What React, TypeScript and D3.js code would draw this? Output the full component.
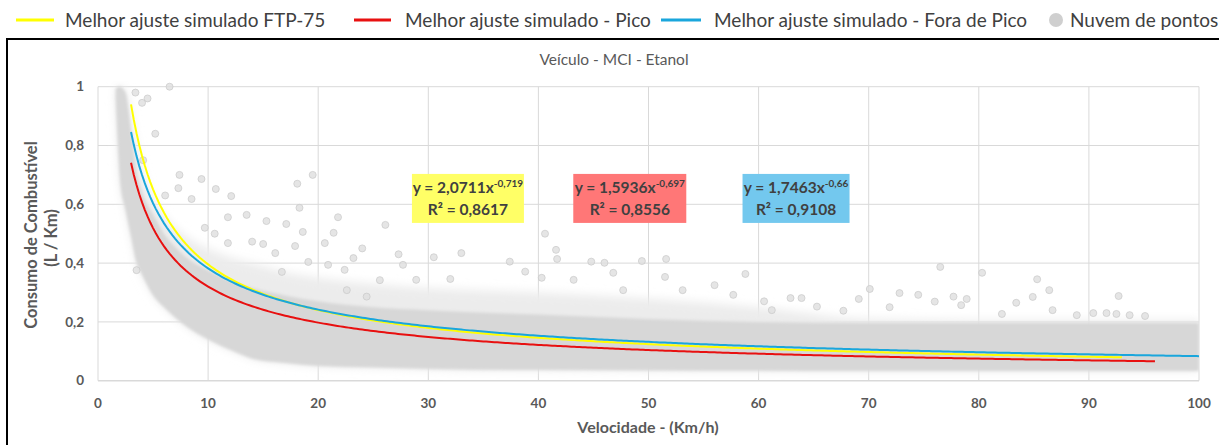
import React from "react";
import * as d3 from "d3";

// ---------- data ----------
const xTicks = [0, 10, 20, 30, 40, 50, 60, 70, 80, 90, 100];
const yTicks = [0, 0.2, 0.4, 0.6, 0.8, 1];
const yTickLabels = ["0", "0,2", "0,4", "0,6", "0,8", "1"];

// trend lines (power fits y = a * x^b as printed on the chart)
const fitNames = ["Melhor ajuste simulado FTP-75", "Melhor ajuste simulado - Pico", "Melhor ajuste simulado - Fora de Pico"];
const fitA = [2.0711, 1.5936, 1.7463];
const fitB = [-0.719, -0.697, -0.66];
const fitR2 = ["0,8617", "0,8556", "0,9108"];
const fitCoefLabel = ["2,0711", "1,5936", "1,7463"];
const fitExpLabel = ["-0,719", "-0,697", "-0,66"];
const fitStart = [3, 3, 3];
const fitEnd = [93, 96, 100];

// point cloud: dense core envelope + medium-density halo
const cloudSpeed = [1.6, 1.8, 2, 2.5, 3, 3.5, 4, 5, 6, 7, 8, 10, 12, 14, 17, 20, 25, 30, 40, 50, 60, 70, 80, 90, 100];
const cloudLow = [0.96, 0.8, 0.68, 0.58, 0.49, 0.4, 0.36, 0.29, 0.25, 0.215, 0.185, 0.14, 0.105, 0.075, 0.06, 0.05, 0.045, 0.04, 0.036, 0.035, 0.034, 0.033, 0.033, 0.033, 0.033];
const cloudHigh = [0.99, 1.0, 1.0, 0.98, 0.85, 0.71, 0.64, 0.565, 0.5, 0.455, 0.42, 0.375, 0.34, 0.315, 0.29, 0.27, 0.25, 0.24, 0.225, 0.21, 0.2, 0.197, 0.197, 0.197, 0.197];
const haloHigh = [0.99, 1.0, 1.0, 0.99, 0.9, 0.8, 0.72, 0.62, 0.56, 0.52, 0.49, 0.45, 0.42, 0.4, 0.37, 0.35, 0.33, 0.315, 0.3, 0.28, 0.25, 0.21, 0.205, 0.205, 0.205];

// scattered points outside the dense cloud
const outX = [6.5, 4.5, 4.0, 3.4, 5.2, 4.1, 7.4, 9.4, 19.5, 18.1, 7.3, 10.7, 12.1, 6.1, 8.5, 18.3, 13.5, 11.8, 15.3, 17.1, 9.7, 10.6, 18.6, 21.4, 14.0, 15.0, 20.6, 11.8, 16.1, 17.9, 19.1, 20.9, 16.7, 21.8, 3.5,
  26.1, 24.0, 23.2, 22.4, 27.3, 27.7, 33.0, 30.5, 40.6, 41.6, 41.7, 37.4, 44.8, 46.0, 49.4, 51.6, 46.8, 51.5, 58.8, 56.0, 38.8, 40.3, 43.2, 32.0, 28.9, 25.6, 47.7, 53.1, 57.7, 22.6, 24.4,
  76.5, 80.3, 85.3, 86.4, 70.1, 92.7, 72.8, 74.5, 77.7, 78.9, 83.4, 84.9, 69.1, 63.9, 62.9, 65.3, 67.7, 71.9, 76.0, 78.4, 82.1, 86.7, 88.9, 90.4, 92.5, 93.7, 95.1, 91.6, 60.5, 61.2];
const outY = [1.0, 0.96, 0.945, 0.98, 0.84, 0.75, 0.7, 0.686, 0.7, 0.67, 0.655, 0.652, 0.628, 0.63, 0.618, 0.588, 0.564, 0.556, 0.543, 0.533, 0.52, 0.5, 0.506, 0.503, 0.473, 0.465, 0.468, 0.468, 0.434, 0.458, 0.404, 0.394, 0.37, 0.556, 0.376,
  0.53, 0.45, 0.417, 0.377, 0.43, 0.394, 0.434, 0.42, 0.5, 0.445, 0.414, 0.405, 0.405, 0.401, 0.407, 0.414, 0.367, 0.353, 0.363, 0.325, 0.371, 0.35, 0.343, 0.346, 0.343, 0.342, 0.308, 0.308, 0.292, 0.308, 0.286,
  0.387, 0.367, 0.345, 0.308, 0.312, 0.288, 0.298, 0.292, 0.286, 0.278, 0.265, 0.285, 0.278, 0.281, 0.281, 0.252, 0.238, 0.25, 0.269, 0.257, 0.227, 0.24, 0.223, 0.23, 0.227, 0.223, 0.22, 0.23, 0.27, 0.24];

// ---------- styling / layout ----------
const W = 1219;
const H = 445;
const FONT = "Lato, 'Open Sans', sans-serif";
const fitColors = ["#ffff00", "#e81010", "#1aa6dc"];
const boxColors = ["#ffff66", "#ff7777", "#73c8ee"];
const boxCenter = [[33.6, 0.62], [48.3, 0.62], [63.4, 0.62]];
const boxSize = [[112, 49], [113, 49], [107, 49]];

export default function App() {
  const x = d3.scaleLinear().domain([0, 100]).range([98, 1199]);
  const y = d3.scaleLinear().domain([0, 1]).range([380.7, 86.7]);

  const idx = d3.range(cloudSpeed.length);
  const coreArea = d3
    .area<number>()
    .x((i) => x(cloudSpeed[i]))
    .y0((i) => y(cloudLow[i]))
    .y1((i) => y(cloudHigh[i]))
    .curve(d3.curveMonotoneX);
  const haloArea = d3
    .area<number>()
    .x((i) => x(cloudSpeed[i]))
    .y0((i) => y(cloudLow[i]))
    .y1((i) => y(haloHigh[i]))
    .curve(d3.curveMonotoneX);

  const line = d3
    .line<[number, number]>()
    .x((d) => x(d[0]))
    .y((d) => y(d[1]));

  const fitPaths = fitA.map((a, k) => {
    const xs = d3.range(fitStart[k], fitEnd[k], 0.25).concat([fitEnd[k]]);
    return line(xs.map((v) => [v, a * Math.pow(v, fitB[k])] as [number, number]));
  });

  const legendItems = [
    { type: "line", color: fitColors[0], x0: 16, x1: 54, tx: 65, label: fitNames[0] },
    { type: "line", color: fitColors[1], x0: 354, x1: 391, tx: 405, label: fitNames[1] },
    { type: "line", color: fitColors[2], x0: 661, x1: 701, tx: 714, label: fitNames[2] },
    { type: "dot", color: "#cfcfcf", x0: 1056, x1: 1056, tx: 1070, label: "Nuvem de pontos" },
  ];

  return (
    <svg width={W} height={H} style={{ position: "absolute", left: 0, top: 0, background: "#fff" }} fontFamily={FONT}>
      <defs>
        <clipPath id="plotClip">
          <rect x={x(0)} y={y(1) - 6} width={x(100) - x(0)} height={y(0) - y(1) + 6} />
        </clipPath>
        <filter id="soft" x="-5%" y="-5%" width="110%" height="110%">
          <feGaussianBlur stdDeviation="1.6" />
        </filter>
        <filter id="softer" x="-5%" y="-10%" width="110%" height="120%">
          <feGaussianBlur stdDeviation="5" />
        </filter>
      </defs>

      {/* legend */}
      {legendItems.map((it, i) => (
        <g key={i}>
          {it.type === "line" ? (
            <line x1={it.x0} x2={it.x1} y1={20} y2={20} stroke={it.color} strokeWidth={3} />
          ) : (
            <circle cx={it.x0} cy={20} r={7} fill={it.color} />
          )}
          <text x={it.tx} y={26.5} fontSize={19} fill="#404040">
            {it.label}
          </text>
        </g>
      ))}

      {/* chart frame */}
      <rect x={7} y={39} width={1230} height={430} fill="#fff" stroke="#000" strokeWidth={2} />

      {/* title */}
      <text x={614} y={65} textAnchor="middle" fontSize={15.5} fill="#595959">
        Veículo - MCI - Etanol
      </text>

      {/* grid */}
      {xTicks.map((t) => (
        <line key={"gx" + t} x1={x(t)} x2={x(t)} y1={y(1)} y2={y(0)} stroke="#d9d9d9" strokeWidth={1} />
      ))}
      {yTicks.map((t) => (
        <line key={"gy" + t} x1={x(0)} x2={x(100)} y1={y(t)} y2={y(t)} stroke="#d9d9d9" strokeWidth={t === 0 ? 1.5 : 1} />
      ))}

      {/* point cloud */}
      <g clipPath="url(#plotClip)">
        <g filter="url(#softer)">
          <path d={haloArea(idx) || ""} fill="#ececec" />
        </g>
        <g filter="url(#soft)">
          <path d={coreArea(idx) || ""} fill="#d7d7d7" />
        </g>
        {outX.map((v, i) => (
          <circle key={"p" + i} cx={x(v)} cy={y(outY[i])} r={3.5} fill="#dedede" fillOpacity={0.8} stroke="#c9c9c9" strokeWidth={0.7} />
        ))}
        {/* fits */}
        {fitPaths.map((d, k) => (
          <path key={"f" + k} d={d || ""} fill="none" stroke={fitColors[k]} strokeWidth={2} />
        ))}
      </g>

      {/* equation boxes */}
      {boxCenter.map((c, k) => {
        const cx = x(c[0]);
        const cy = y(c[1]);
        const [bw, bh] = boxSize[k];
        return (
          <g key={"b" + k}>
            <rect x={cx - bw / 2} y={cy - bh / 2} width={bw} height={bh} fill={boxColors[k]} />
            <text x={cx} y={cy - 5} textAnchor="middle" fontSize={15.5} fontWeight={700} fill="#404040">
              {"y = " + fitCoefLabel[k] + "x"}
              <tspan fontSize={10} dy={-6}>
                {fitExpLabel[k]}
              </tspan>
            </text>
            <text x={cx} y={cy + 17} textAnchor="middle" fontSize={15.5} fontWeight={700} fill="#404040">
              R² = {fitR2[k]}
            </text>
          </g>
        );
      })}

      {/* y tick labels */}
      {yTicks.map((t, i) => (
        <text key={"yl" + t} x={84} y={y(t)} dy="0.35em" textAnchor="end" fontSize={13.5} fontWeight={700} fill="#595959">
          {yTickLabels[i]}
        </text>
      ))}
      {/* x tick labels */}
      {xTicks.map((t) => (
        <text key={"xl" + t} x={x(t)} y={408} textAnchor="middle" fontSize={13.5} fontWeight={700} fill="#595959">
          {t}
        </text>
      ))}

      {/* axis titles */}
      <text x={648} y={433} textAnchor="middle" fontSize={16} fontWeight={700} fill="#595959">
        Velocidade - (Km/h)
      </text>
      <text transform="translate(37,235) rotate(-90)" textAnchor="middle" fontSize={16.5} fontWeight={700} fill="#595959">
        Consumo de Combustível
      </text>
      <text transform="translate(57,238) rotate(-90)" textAnchor="middle" fontSize={16.5} fontWeight={700} fill="#595959">
        (L / Km)
      </text>
    </svg>
  );
}
